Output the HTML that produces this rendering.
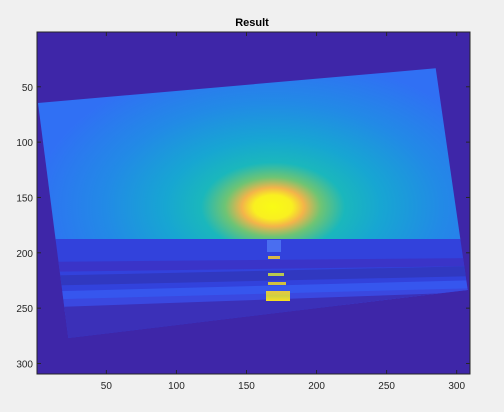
<!DOCTYPE html>
<html><head><meta charset="utf-8"><style>
html,body{margin:0;padding:0;background:#f0f0f0;}
svg{display:block;font-family:"Liberation Sans",sans-serif;}
</style></head><body>
<svg id="chart" width="504" height="412" viewBox="0 0 504 412">
<defs>
<radialGradient id="sky" gradientUnits="userSpaceOnUse" cx="273" cy="207" r="240" gradientTransform="translate(273 207) scale(1 0.62) translate(-273 -207)">
<stop offset="0" stop-color="#f9fb15"/>
<stop offset="0.08" stop-color="#f9f020"/>
<stop offset="0.13" stop-color="#f3b44a"/>
<stop offset="0.2" stop-color="#6ec474"/>
<stop offset="0.3" stop-color="#1ab7bc"/>
<stop offset="0.45" stop-color="#17a6d2"/>
<stop offset="0.7" stop-color="#228ae6"/>
<stop offset="1" stop-color="#3070f4"/>
</radialGradient>
<linearGradient id="refl" x1="0" y1="0" x2="0" y2="1">
<stop offset="0" stop-color="#e8c840"/><stop offset="0.5" stop-color="#d0d040"/><stop offset="1" stop-color="#f9e020"/>
</linearGradient>
<clipPath id="imgclip"><polygon points="38,103 435.7,68.3 467.7,290 68.3,338"/></clipPath>
</defs>
<text x="252" y="26" text-anchor="middle" font-size="11" font-weight="bold" fill="#000">Result</text>
<rect x="37" y="32" width="433" height="342" fill="#3e26a8"/>
<g clip-path="url(#imgclip)">
<rect x="30" y="60" width="450" height="180" fill="url(#sky)"/>
<rect x="30" y="239" width="450" height="110" fill="#3242dc"/>
<polygon points="30,262 480,258 480,266 30,272" fill="#3a34c8"/>
<polygon points="30,276 480,266 480,276 30,286" fill="#3038c0"/>
<polygon points="30,292 480,280 480,290 30,300" fill="#3656ee"/>
<polygon points="30,300 480,288 480,300 30,316" fill="#3a48e0"/>
<polygon points="30,308 480,292 480,340 30,345" fill="#3b30b8"/>
<rect x="267" y="240" width="14" height="12" fill="#4a6ef0"/>
<rect x="268" y="256" width="12" height="3" fill="#d8b848"/>
<rect x="268" y="273" width="16" height="3" fill="#b8c850"/>
<rect x="268" y="282" width="18" height="3" fill="#d0c040"/>
<rect x="266" y="291" width="24" height="10" fill="url(#refl)"/>
</g>
<rect x="37" y="32" width="433" height="342" fill="none" stroke="#262626" stroke-width="1"/>
<g id="xticks"></g>
<g id="yticks"></g>
</svg>
<script>
const xTickValues = [50, 100, 150, 200, 250, 300];
const yTickValues = [50, 100, 150, 200, 250, 300];
const xLimits = [0.5, 309.5];
const yLimits = [0.5, 309.5];
const L = 37, R = 470, T = 32, B = 374;
const xScale = v => L + (v - xLimits[0]) / (xLimits[1] - xLimits[0]) * (R - L);
const yScale = v => T + (v - yLimits[0]) / (yLimits[1] - yLimits[0]) * (B - T);
const NS = "http://www.w3.org/2000/svg";
const gx = document.getElementById('xticks');
const gy = document.getElementById('yticks');
function mk(tag, attrs, parent) {
  const e = document.createElementNS(NS, tag);
  for (const k in attrs) e.setAttribute(k, attrs[k]);
  parent.appendChild(e);
  return e;
}
xTickValues.forEach(v => {
  const x = xScale(v);
  const t1 = mk('line', {x1: x, x2: x, y1: B, y2: B - 4, stroke: '#262626'}, gx);
  
  
  const t2 = mk('line', {x1: x, x2: x, y1: T, y2: T + 4, stroke: '#262626'}, gx);
  
  
  const lb = mk('text', {x: x, y: B + 15, 'text-anchor': 'middle', 'font-size': 10, fill: '#262626'}, gx);
  lb.textContent = v;
  
  
});
yTickValues.forEach(v => {
  const y = yScale(v);
  const t1 = mk('line', {x1: L, x2: L + 4, y1: y, y2: y, stroke: '#262626'}, gy);
  
  
  const t2 = mk('line', {x1: R, x2: R - 4, y1: y, y2: y, stroke: '#262626'}, gy);
  
  
  const lb = mk('text', {x: L - 4, y: y + 4, 'text-anchor': 'end', 'font-size': 10, fill: '#262626'}, gy);
  lb.textContent = v;
  
  
});
</script>
</body></html>
